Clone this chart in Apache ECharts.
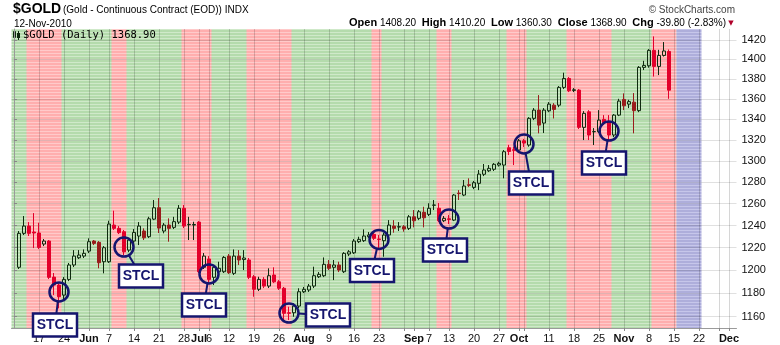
<!DOCTYPE html>
<html>
<head>
<meta charset="utf-8">
<script src="https://cdn.jsdelivr.net/npm/echarts@6/dist/echarts.min.js"></script>
<style>
  html, body { margin: 0; padding: 0; background: #fff; }
  #chart { width: 780px; height: 345px; }
</style>
</head>
<body>
<div id="chart"></div>
<script>
// ---- $GOLD daily session data -------------------------------------------
const tradingDays = [
  '2010-05-11','2010-05-12','2010-05-13','2010-05-14',
  '2010-05-17','2010-05-18','2010-05-19','2010-05-20','2010-05-21',
  '2010-05-24','2010-05-25','2010-05-26','2010-05-27','2010-05-28',
  '2010-06-01','2010-06-02','2010-06-03','2010-06-04',
  '2010-06-07','2010-06-08','2010-06-09','2010-06-10','2010-06-11',
  '2010-06-14','2010-06-15','2010-06-16','2010-06-17','2010-06-18',
  '2010-06-21','2010-06-22','2010-06-23','2010-06-24','2010-06-25',
  '2010-06-28','2010-06-29','2010-06-30','2010-07-01','2010-07-02',
  '2010-07-06','2010-07-07','2010-07-08','2010-07-09',
  '2010-07-12','2010-07-13','2010-07-14','2010-07-15','2010-07-16',
  '2010-07-19','2010-07-20','2010-07-21','2010-07-22','2010-07-23',
  '2010-07-26','2010-07-27','2010-07-28','2010-07-29','2010-07-30',
  '2010-08-02','2010-08-03','2010-08-04','2010-08-05','2010-08-06',
  '2010-08-09','2010-08-10','2010-08-11','2010-08-12','2010-08-13',
  '2010-08-16','2010-08-17','2010-08-18','2010-08-19','2010-08-20',
  '2010-08-23','2010-08-24','2010-08-25','2010-08-26','2010-08-27',
  '2010-08-30','2010-08-31','2010-09-01','2010-09-02','2010-09-03',
  '2010-09-07','2010-09-08','2010-09-09','2010-09-10',
  '2010-09-13','2010-09-14','2010-09-15','2010-09-16','2010-09-17',
  '2010-09-20','2010-09-21','2010-09-22','2010-09-23','2010-09-24',
  '2010-09-27','2010-09-28','2010-09-29','2010-09-30','2010-10-01',
  '2010-10-04','2010-10-05','2010-10-06','2010-10-07','2010-10-08',
  '2010-10-11','2010-10-12','2010-10-13','2010-10-14','2010-10-15',
  '2010-10-18','2010-10-19','2010-10-20','2010-10-21','2010-10-22',
  '2010-10-25','2010-10-26','2010-10-27','2010-10-28','2010-10-29',
  '2010-11-01','2010-11-02','2010-11-03','2010-11-04','2010-11-05',
  '2010-11-08','2010-11-09','2010-11-10','2010-11-11','2010-11-12'
];

// Empty sessions to the right of the last bar
const futureDays = [
  '2010-11-15','2010-11-16','2010-11-17','2010-11-18','2010-11-19',
  '2010-11-22','2010-11-23','2010-11-24','2010-11-26',
  '2010-11-29','2010-11-30','2010-12-01','2010-12-02'
];
const leadDay = '2010-05-10';

const open = [
  1202.7, 1232.9, 1239.5, 1234.1,
  1233.2, 1223.3, 1226.0, 1194.1, 1187.2,
  1178.5, 1192.1, 1204.7, 1211.1, 1212.6,
  1217.0, 1226.0, 1224.8, 1207.6,
  1207.6, 1240.4, 1237.4, 1234.4, 1217.9,
  1226.0, 1230.5, 1235.0, 1229.9, 1245.8,
  1256.2, 1235.0, 1240.4, 1238.3, 1243.1,
  1255.7, 1240.7, 1240.4, 1243.1, 1202.7,
  1210.0, 1193.9, 1198.8, 1198.8,
  1212.6, 1197.4, 1212.6, 1209.5, 1209.1,
  1194.4, 1183.5, 1192.1, 1186.3, 1195.9,
  1190.0, 1184.4, 1163.4, 1163.4, 1169.1,
  1181.4, 1182.9, 1186.3, 1194.4, 1195.3,
  1205.3, 1202.7, 1204.7, 1198.8, 1214.4,
  1215.5, 1225.4, 1226.3, 1229.9, 1232.0,
  1227.8, 1226.3, 1231.4, 1239.5, 1238.6,
  1238.9, 1237.4, 1247.9, 1246.5, 1252.0,
  1250.1, 1258.5, 1255.7, 1244.3,
  1246.1, 1244.9, 1269.7, 1267.9, 1277.5,
  1275.0, 1278.8, 1287.3, 1290.6, 1292.0,
  1296.0, 1296.0, 1312.5, 1310.6, 1310.3,
  1319.2, 1315.1, 1341.0, 1349.1, 1336.4,
  1348.4, 1354.0, 1354.0, 1371.7, 1380.7,
  1368.7, 1369.0, 1332.2, 1347.4, 1327.9,
  1327.9, 1340.0, 1337.6, 1324.8, 1344.2,
  1359.7, 1355.0, 1357.0, 1348.6, 1391.9,
  1393.5, 1409.3, 1392.9, 1404.1, 1408.2
];
const high = [
  1235.0, 1248.6, 1243.1, 1251.3,
  1242.5, 1227.8, 1226.9, 1197.7, 1188.7,
  1194.1, 1206.5, 1217.9, 1217.9, 1218.5,
  1228.4, 1226.9, 1226.0, 1221.5,
  1244.3, 1253.5, 1239.5, 1235.9, 1228.7,
  1236.8, 1243.1, 1237.4, 1247.9, 1263.3,
  1265.1, 1242.2, 1246.5, 1247.9, 1258.7,
  1258.7, 1247.9, 1243.4, 1244.0, 1215.3,
  1212.6, 1204.7, 1207.6, 1212.6,
  1214.4, 1218.5, 1217.9, 1217.9, 1210.9,
  1195.9, 1194.4, 1194.1, 1201.8, 1202.7,
  1191.5, 1185.5, 1168.5, 1171.4, 1184.4,
  1185.5, 1188.1, 1203.2, 1198.5, 1211.4,
  1209.1, 1209.1, 1207.6, 1216.1, 1217.9,
  1227.8, 1229.9, 1236.5, 1234.1, 1233.2,
  1231.4, 1233.2, 1244.9, 1244.9, 1243.1,
  1240.4, 1249.5, 1254.1, 1254.1, 1257.1,
  1260.3, 1263.3, 1260.5, 1248.6,
  1249.5, 1268.8, 1272.5, 1281.9, 1283.5,
  1281.0, 1291.3, 1297.0, 1296.0, 1297.9,
  1299.1, 1310.3, 1315.3, 1313.5, 1320.9,
  1320.9, 1342.2, 1351.1, 1364.0, 1351.1,
  1357.0, 1356.0, 1373.0, 1386.5, 1382.1,
  1371.0, 1370.0, 1348.1, 1349.1, 1331.5,
  1349.1, 1344.2, 1344.2, 1345.2, 1360.3,
  1365.7, 1359.3, 1366.0, 1393.2, 1398.6,
  1410.6, 1423.8, 1409.9, 1417.9, 1410.2
];
const low = [
  1201.2, 1231.4, 1230.5, 1219.7,
  1218.8, 1221.5, 1192.4, 1178.5, 1167.1,
  1174.2, 1190.6, 1202.9, 1210.0, 1210.9,
  1215.3, 1222.4, 1201.8, 1197.4,
  1206.5, 1235.9, 1232.3, 1213.5, 1216.1,
  1224.2, 1222.4, 1226.9, 1228.7, 1244.9,
  1233.2, 1232.9, 1225.4, 1236.8, 1241.3,
  1237.7, 1226.9, 1226.9, 1197.7, 1201.2,
  1188.7, 1187.2, 1197.7, 1197.7,
  1196.8, 1195.9, 1204.7, 1200.3, 1192.4,
  1177.1, 1182.0, 1184.6, 1184.6, 1188.9,
  1182.9, 1157.2, 1157.2, 1160.0, 1167.4,
  1180.3, 1181.2, 1184.6, 1193.3, 1194.1,
  1200.3, 1191.5, 1198.5, 1197.7, 1212.6,
  1214.4, 1224.2, 1225.1, 1228.7, 1226.9,
  1219.4, 1212.0, 1229.6, 1233.5, 1235.0,
  1234.4, 1235.9, 1238.3, 1244.9, 1238.3,
  1248.6, 1254.1, 1243.1, 1243.1,
  1241.3, 1244.0, 1263.3, 1266.9, 1275.3,
  1273.4, 1272.5, 1285.6, 1289.4, 1290.4,
  1294.6, 1283.5, 1305.5, 1296.0, 1308.4,
  1313.2, 1313.5, 1339.3, 1326.4, 1326.7,
  1347.1, 1340.9, 1352.0, 1370.0, 1367.0,
  1367.0, 1330.6, 1319.9, 1319.9, 1315.1,
  1326.7, 1334.4, 1319.9, 1322.8, 1343.2,
  1349.1, 1351.1, 1326.4, 1347.1, 1389.2,
  1391.6, 1382.6, 1384.1, 1403.0, 1360.3
];
const close = [
  1232.9, 1239.5, 1232.9, 1233.2,
  1220.3, 1226.0, 1193.9, 1187.2, 1177.1,
  1192.1, 1204.7, 1212.6, 1213.5, 1215.0,
  1225.4, 1223.9, 1206.7, 1220.0,
  1241.3, 1237.4, 1233.5, 1216.4, 1226.9,
  1233.7, 1239.5, 1228.9, 1246.1, 1256.2,
  1237.7, 1240.4, 1237.4, 1243.5, 1255.7,
  1239.5, 1241.0, 1240.9, 1198.8, 1212.6,
  1192.1, 1202.7, 1201.8, 1211.4,
  1198.0, 1212.6, 1209.1, 1210.9, 1193.9,
  1183.5, 1192.1, 1186.3, 1195.3, 1190.0,
  1184.4, 1162.9, 1162.9, 1169.1, 1181.4,
  1183.5, 1186.3, 1195.3, 1196.5, 1205.3,
  1201.8, 1204.7, 1200.3, 1215.0, 1216.4,
  1226.0, 1227.5, 1230.5, 1231.4, 1228.4,
  1227.4, 1231.4, 1240.4, 1237.4, 1238.9,
  1236.8, 1247.9, 1244.3, 1252.5, 1247.0,
  1255.7, 1258.7, 1244.3, 1246.5,
  1245.5, 1267.9, 1269.2, 1276.3, 1276.9,
  1279.4, 1287.5, 1291.3, 1292.9, 1296.7,
  1297.6, 1308.7, 1308.9, 1310.0, 1319.2,
  1317.0, 1341.0, 1349.1, 1334.4, 1349.1,
  1355.0, 1349.8, 1371.7, 1380.7, 1368.3,
  1369.3, 1332.2, 1345.9, 1324.8, 1328.1,
  1339.3, 1336.7, 1324.8, 1344.2, 1358.0,
  1353.4, 1357.5, 1348.6, 1391.9, 1393.9,
  1409.3, 1392.9, 1404.1, 1408.7, 1368.9
];

// Price scale ticks
const priceTicks = [1160, 1180, 1200, 1220, 1240, 1260, 1280, 1300, 1320, 1340, 1360, 1380, 1400, 1420];

// Date axis: labelled sessions
const dateLabels = [
  ['2010-05-17','17'], ['2010-05-24','24'], ['2010-06-01','Jun'], ['2010-06-07','7'],
  ['2010-06-14','14'], ['2010-06-21','21'], ['2010-06-28','28'], ['2010-07-01','Jul'],
  ['2010-07-06','6'], ['2010-07-12','12'], ['2010-07-19','19'], ['2010-07-26','26'],
  ['2010-08-02','Aug'], ['2010-08-09','9'], ['2010-08-16','16'], ['2010-08-23','23'],
  ['2010-09-01','Sep'], ['2010-09-07','7'], ['2010-09-13','13'], ['2010-09-20','20'],
  ['2010-09-27','27'], ['2010-10-01','Oct'], ['2010-10-11','11'], ['2010-10-18','18'],
  ['2010-10-25','25'], ['2010-11-01','Nov'], ['2010-11-08','8'], ['2010-11-15','15'],
  ['2010-11-22','22'], ['2010-12-01','Dec']
];
// Week / month starts that get a vertical grid line
const gridDays = [
  '2010-05-17','2010-05-24','2010-06-01','2010-06-07','2010-06-14','2010-06-21',
  '2010-06-28','2010-07-01','2010-07-06','2010-07-12','2010-07-19','2010-07-26',
  '2010-08-02','2010-08-09','2010-08-16','2010-08-23','2010-08-30','2010-09-01',
  '2010-09-07','2010-09-13','2010-09-20','2010-09-27','2010-10-01','2010-10-04',
  '2010-10-11','2010-10-18','2010-10-25','2010-11-01','2010-11-08','2010-11-15',
  '2010-11-22','2010-11-29','2010-12-01'
];

// Cycle phases shaded behind the price bars
const risingPhase = [['2010-05-10', '2010-11-15']];
const fallingPhases = [
  ['2010-05-13','2010-05-21'], ['2010-06-08','2010-06-10'], ['2010-06-28','2010-07-06'],
  ['2010-07-16','2010-07-28'], ['2010-08-20','2010-08-23'], ['2010-09-09','2010-09-13'],
  ['2010-09-29','2010-10-04'], ['2010-10-15','2010-10-27'], ['2010-11-09','2010-11-15']
];
const projectedPhase = [['2010-11-16','2010-11-22']];

// Short-term cycle lows: [session, price]
const stclMarks = [
  ['2010-05-21', 1181.2], ['2010-06-10', 1220.6], ['2010-07-06', 1196.8], ['2010-07-28', 1163.1],
  ['2010-08-23', 1227.4], ['2010-09-13', 1245.8], ['2010-10-04', 1316.1], ['2010-10-27', 1328.6]
];
// Label box placement relative to each circled low (px)
const stclLabelShift = [
  [-4, 33], [17, 29], [-5, 31], [39, 2], [-7, 31], [-4, 31], [7, 39], [-5, 32]
];

// ---- rendering -------------------------------------------------------------
const axisDays = [leadDay].concat(tradingDays, futureDays);
const dayPos = d => axisDays.indexOf(d);
const inRanges = (d, ranges) => ranges.some(([s, e]) => d >= s && d <= e);

const SANS = '"Liberation Sans", Arial, sans-serif';
const DARK = '#0f2a0f';
const RED = '#e3002b';
const MAROON = '#9a1c1c';
const NAVY = '#15156e';

function stripes(base, line) {
  const c = document.createElement('canvas');
  c.width = 4; c.height = 3;
  const g = c.getContext('2d');
  g.fillStyle = base; g.fillRect(0, 0, 4, 3);
  g.fillStyle = line; g.fillRect(0, 2, 4, 1);
  return { image: c, repeat: 'repeat' };
}
const GREEN_FILL = stripes('#b4dbac', '#cfe9c9');
const RED_FILL = stripes('#ffaeae', '#ffcaca');
const BLUE_FILL = stripes('#aeaedb', '#c6c6ea');

const phaseAreas = (ranges, fill) => ranges.map(([s, e]) => [
  { xAxis: dayPos(s) - 0.5, itemStyle: { color: fill } },
  { xAxis: dayPos(e) + 0.5 }
]);

const candles = tradingDays.map((d, i) => {
  const item = { value: [dayPos(d), Math.log(open[i]), Math.log(close[i]), Math.log(low[i]), Math.log(high[i])] };
  if (close[i] < open[i] && !inRanges(d, fallingPhases)) {
    item.itemStyle = { color0: MAROON, borderColor0: MAROON };
  }
  return item;
});

const labelAt = {};
dateLabels.forEach(([d, t]) => { labelAt[dayPos(d)] = t; });

const chart = echarts.init(document.getElementById('chart'));
chart.setOption({
  animation: false,
  grid: { left: 11.5, right: 43.5, top: 29, bottom: 17 },
  xAxis: {
    type: 'value',
    min: -0.5,
    max: axisDays.length - 0.5,
    z: 1,
    axisLine: { show: true, onZero: false, lineStyle: { color: '#9a9a9a', width: 1 } },
    axisTick: { show: true, customValues: gridDays.map(dayPos), length: 3, lineStyle: { color: '#888' } },
    splitLine: { show: true, lineStyle: { color: 'rgba(0,0,0,0.16)', width: 1 } },
    axisLabel: {
      customValues: dateLabels.map(([d]) => dayPos(d)),
      formatter: v => {
        const t = labelAt[Math.round(v)] || '';
        return /^\d/.test(t) ? t : '{m|' + t + '}';
      },
      margin: 5,
      color: '#111',
      fontFamily: SANS,
      fontSize: 11,
      rich: { m: { fontFamily: SANS, fontSize: 11, fontWeight: 'bold', color: '#111' } }
    }
  },
  yAxis: {
    type: 'value',
    position: 'right',
    min: Math.log(1150.5),
    max: Math.log(1431.5),
    z: 1,
    axisLine: { show: true, lineStyle: { color: '#9a9a9a', width: 1 } },
    axisTick: { show: true, customValues: priceTicks.map(Math.log), length: 3, lineStyle: { color: '#888' } },
    splitLine: { show: true, lineStyle: { color: 'rgba(0,0,0,0.12)', width: 1 } },
    axisLabel: {
      customValues: priceTicks.map(Math.log),
      formatter: v => String(Math.round(Math.exp(v))),
      margin: 5,
      color: '#111',
      fontFamily: SANS,
      fontSize: 11
    }
  },
  series: [
    {
      type: 'line',
      data: [],
      silent: true,
      markArea: {
        silent: true,
        z: 0,
        label: { show: false },
        data: [].concat(
          phaseAreas(risingPhase, GREEN_FILL),
          phaseAreas(fallingPhases, RED_FILL),
          phaseAreas(projectedPhase, BLUE_FILL)
        )
      }
    },
    {
      type: 'candlestick',
      data: candles,
      z: 2,
      barWidth: 4,
      silent: true,
      itemStyle: {
        color: 'rgba(0,0,0,0)',
        color0: RED,
        borderColor: DARK,
        borderColor0: RED,
        borderWidth: 1
      }
    }
  ]
});

// ---- header, legend and cycle-low annotations -----------------------------
const n = close.length - 1;
const chg = close[n] - close[n - 1];
const pct = chg / close[n - 1] * 100;
const f2 = v => v.toFixed(2);

const graphics = [
  { type: 'text', x: 13, y: 9, silent: true,
    style: { text: '$GOLD', font: 'bold 14px ' + SANS, fill: '#000', verticalAlign: 'middle' } },
  { type: 'text', x: 63, y: 10, silent: true,
    style: { text: '(Gold - Continuous Contract (EOD)) INDX', font: '10px ' + SANS, fill: '#000', verticalAlign: 'middle' } },
  { type: 'text', x: 14, y: 24, silent: true,
    style: { text: '12-Nov-2010', font: '10px ' + SANS, fill: '#000', verticalAlign: 'middle' } },
  { type: 'text', x: 735, y: 10, silent: true,
    style: { text: '\u00A9 StockCharts.com', font: '10px ' + SANS, fill: '#444', align: 'right', verticalAlign: 'middle' } },
  { type: 'text', x: 726, y: 23, silent: true,
    style: {
      text: '{b|Open} ' + f2(open[n]) + ' {b|High} ' + f2(high[n]) + ' {b|Low} ' + f2(low[n]) +
            ' {b|Close} ' + f2(close[n]) + ' {b|Chg} ' + f2(chg) + ' (' + f2(pct) + '%)',
      font: '10px ' + SANS, fill: '#000', align: 'right', verticalAlign: 'middle',
      rich: { b: { font: 'bold 11px ' + SANS, fill: '#000', padding: [0, 0, 0, 3] } }
    } },
  { type: 'text', x: 731, y: 23, silent: true,
    style: { text: '\u25BC', font: '7px "DejaVu Sans"', fill: '#b0002a', align: 'center', verticalAlign: 'middle' } },
  // legend
  { type: 'rect', silent: true, shape: { x: 13.5, y: 31.5, width: 2, height: 6 }, style: { fill: 'none', stroke: DARK, lineWidth: 1 } },
  { type: 'line', silent: true, shape: { x1: 14.5, y1: 30, x2: 14.5, y2: 40 }, style: { stroke: DARK, lineWidth: 1 } },
  { type: 'rect', silent: true, shape: { x: 17, y: 33, width: 3, height: 5 }, style: { fill: DARK } },
  { type: 'line', silent: true, shape: { x1: 18.5, y1: 31, x2: 18.5, y2: 40 }, style: { stroke: DARK, lineWidth: 1 } },
  { type: 'text', x: 23, y: 35.5, silent: true,
    style: { text: '$GOLD (Daily) ' + f2(close[n]), font: '10.5px "DejaVu Sans Mono", monospace', fill: '#000', verticalAlign: 'middle' } }
];

const R = 9.5, BOX_W = 44, BOX_H = 23;
stclMarks.forEach(([d, price], k) => {
  const [cx, cy] = chart.convertToPixel({ gridIndex: 0 }, [dayPos(d), Math.log(price)]);
  const [dx, dy] = stclLabelShift[k];
  const bx = cx + dx, by = cy + dy;
  const len = Math.hypot(dx, dy);
  const s = Math.min(BOX_W / 2 / Math.max(Math.abs(dx), 1e-6), BOX_H / 2 / Math.max(Math.abs(dy), 1e-6));
  graphics.push(
    { type: 'line', z: 100, silent: true,
      shape: { x1: cx + dx / len * R, y1: cy + dy / len * R, x2: bx - dx * s, y2: by - dy * s },
      style: { stroke: NAVY, lineWidth: 2 } },
    { type: 'circle', z: 101, silent: true, shape: { cx: cx, cy: cy, r: R },
      style: { fill: 'none', stroke: NAVY, lineWidth: 2.5 } },
    { type: 'rect', z: 101, silent: true,
      shape: { x: bx - BOX_W / 2, y: by - BOX_H / 2, width: BOX_W, height: BOX_H },
      style: { fill: '#fff', stroke: NAVY, lineWidth: 2.5 } },
    { type: 'text', z: 102, silent: true, x: bx, y: by + 0.5,
      style: { text: 'STCL', font: 'bold 14px ' + SANS, fill: NAVY, align: 'center', verticalAlign: 'middle' } }
  );
});

chart.setOption({ graphic: graphics });
</script>
</body>
</html>
